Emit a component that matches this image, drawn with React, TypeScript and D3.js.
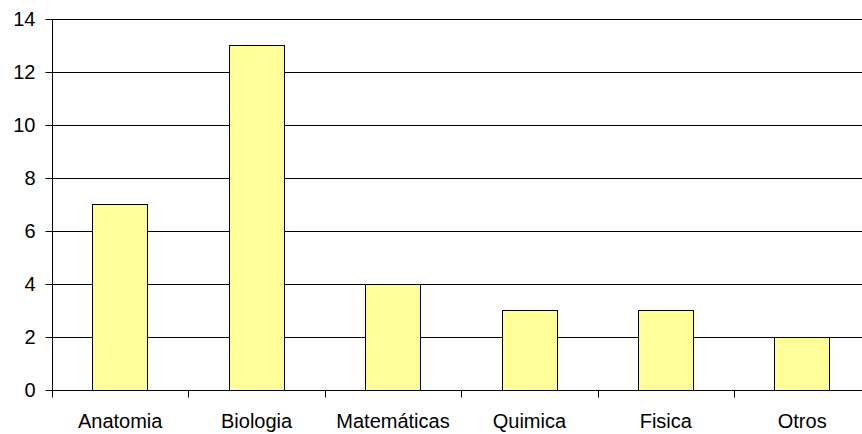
import * as d3 from "d3";
import { useEffect, useRef } from "react";

const categories = ["Anatomia", "Biologia", "Matemáticas", "Quimica", "Fisica", "Otros"];
const values = [7, 13, 4, 3, 3, 2];
const yTicks = [0, 2, 4, 6, 8, 10, 12, 14];

export default function App() {
  const ref = useRef<SVGSVGElement | null>(null);

  useEffect(() => {
    const el = ref.current;
    if (!el) return;
    const svg = d3.select(el);
    svg.selectAll("*").remove();

    const W = 862;
    const H = 434;
    const left = 52;
    const top = 18.7;
    const bottom = 390;
    const step = 136.4;
    const right = left + step * categories.length;
    const font = "'Liberation Sans', Arial, sans-serif";

    const y = d3.scaleLinear().domain([0, 14]).range([bottom, top]);
    const band = d3.scaleBand<string>().domain(categories).range([left, right]).padding(0);
    const bars = d3
      .scaleBand<string>()
      .domain(categories)
      .range([left, right])
      .paddingInner(0.6)
      .paddingOuter(0.3);

    svg.attr("width", W).attr("height", H);
    svg.append("rect").attr("width", W).attr("height", H).attr("fill", "#fff");

    // gridlines
    svg
      .append("g")
      .selectAll("line")
      .data(yTicks.filter((d) => d > 0))
      .join("line")
      .attr("x1", left)
      .attr("x2", right)
      .attr("y1", (d) => Math.round(y(d)) + 0.5)
      .attr("y2", (d) => Math.round(y(d)) + 0.5)
      .attr("stroke", "#000")
      .attr("stroke-width", 1);

    // bars
    svg
      .append("g")
      .selectAll("rect")
      .data(categories)
      .join("rect")
      .attr("x", (d) => Math.floor(bars(d)!) + 0.5)
      .attr("y", (d, i) => Math.round(y(values[i])) + 0.5)
      .attr("width", Math.round(bars.bandwidth()))
      .attr("height", (d, i) => Math.round(y(0)) - Math.round(y(values[i])))
      .attr("fill", "#ffff99")
      .attr("stroke", "#000")
      .attr("stroke-width", 1);

    // y axis
    svg
      .append("g")
      .attr("transform", `translate(${left + 0.5},0)`)
      .call(d3.axisLeft(y).tickValues(yTicks).tickSize(7).tickPadding(10).tickFormat(d3.format("d")))
      .call((g) => g.select(".domain").attr("d", `M0,${Math.round(top) + 0.5}V${Math.round(bottom) + 0.5}`))
      .call((g) =>
        g.selectAll(".tick").attr("transform", (d) => `translate(0,${Math.round(y(d as number)) + 0.5})`),
      )
      .call((g) => g.selectAll(".tick line").attr("stroke", "#000"))
      .call((g) =>
        g.selectAll(".tick text").attr("fill", "#000").attr("font-size", 20).attr("font-family", font),
      );

    // x axis
    const xg = svg.append("g").attr("transform", `translate(0,${Math.round(bottom) + 0.5})`);
    xg.append("line").attr("x1", left).attr("x2", right).attr("stroke", "#000");
    xg.selectAll("line.tk")
      .data(d3.range(categories.length + 1))
      .join("line")
      .attr("class", "tk")
      .attr("x1", (i) => Math.round(left + band.step() * i) + 0.5)
      .attr("x2", (i) => Math.round(left + band.step() * i) + 0.5)
      .attr("y1", 0)
      .attr("y2", 7)
      .attr("stroke", "#000");
    xg.selectAll("text")
      .data(categories)
      .join("text")
      .attr("x", (d) => band(d)! + band.bandwidth() / 2)
      .attr("y", 37)
      .attr("text-anchor", "middle")
      .attr("font-size", 20)
      .attr("font-family", font)
      .attr("fill", "#000")
      .text((d) => d);
  }, []);

  return <svg ref={ref} style={{ position: "absolute", left: 0, top: 0, display: "block" }} />;
}
